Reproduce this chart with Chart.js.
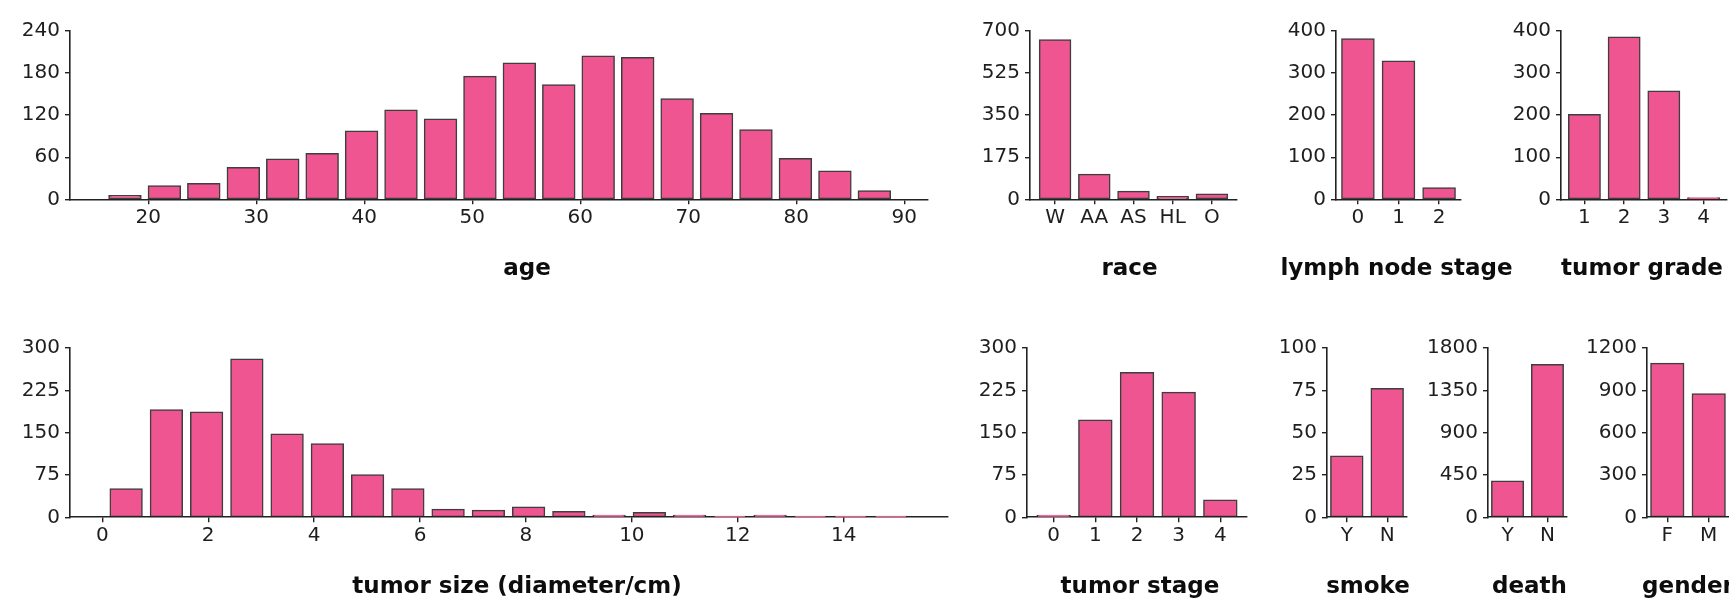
<!DOCTYPE html>
<html>
<head>
<meta charset="utf-8">
<title>Patient characteristics</title>
<script src="https://cdn.jsdelivr.net/npm/chart.js@4.4.1/dist/chart.umd.min.js"></script>
<style>
  html, body { margin: 0; padding: 0; background: #ffffff; width: 1729px; height: 599px; overflow: hidden; }
  body { position: relative; }
  canvas { position: absolute; }
</style>
</head>
<body>
<script>
// ---------------- data ----------------
const ageBinCenters = [17.84, 21.49, 25.14, 28.80, 32.45, 36.10, 39.75, 43.40, 47.06, 50.71,
                       54.36, 58.01, 61.66, 65.32, 68.97, 72.62, 76.27, 79.92, 83.58, 87.23];
const ageCounts = [5, 19, 22, 45, 57, 65, 97, 127, 114, 175, 194, 163, 204, 202, 143, 122, 99, 58, 40, 12];
const ageXTicks = [20, 30, 40, 50, 60, 70, 80, 90];
const ageYTicks = [0, 60, 120, 180, 240];

const sizeBinCenters = [0.45, 1.21, 1.97, 2.73, 3.49, 4.25, 5.01, 5.77, 6.53, 7.29,
                        8.05, 8.81, 9.57, 10.33, 11.09, 11.85, 12.61, 13.37, 14.13, 14.89];
const sizeCounts = [50, 190, 186, 280, 147, 130, 75, 50, 14, 12, 18, 10, 3, 8, 3, 1, 3, 1, 1, 1];
const sizeXTicks = [0, 2, 4, 6, 8, 10, 12, 14];
const sizeYTicks = [0, 75, 150, 225, 300];

const raceCats = ['W', 'AA', 'AS', 'HL', 'O'];
const raceCounts = [663, 103, 32, 11, 21];
const raceYTicks = [0, 175, 350, 525, 700];

const lymphCats = ['0', '1', '2'];
const lymphCounts = [381, 328, 27];
const lymphYTicks = [0, 100, 200, 300, 400];

const gradeCats = ['1', '2', '3', '4'];
const gradeCounts = [201, 385, 257, 3];
const gradeYTicks = [0, 100, 200, 300, 400];

const stageCats = ['0', '1', '2', '3', '4'];
const stageCounts = [3, 172, 256, 221, 30];
const stageYTicks = [0, 75, 150, 225, 300];

const smokeCats = ['Y', 'N'];
const smokeCounts = [36, 76];
const smokeYTicks = [0, 25, 50, 75, 100];

const deathCats = ['Y', 'N'];
const deathCounts = [383, 1621];
const deathYTicks = [0, 450, 900, 1350, 1800];

const genderCats = ['F', 'M'];
const genderCounts = [1090, 874];
const genderYTicks = [0, 300, 600, 900, 1200];

// ---------------- styles ----------------
const FILL = '#ef5591';
const EDGE = 'rgba(35,35,35,0.88)';
const AXIS = '#222222';
const TEXT = '#1e1e1e';
const TICK_FONT = { family: '"DejaVu Sans", sans-serif', size: 20 };
const TITLE_FONT = 'bold 23px "DejaVu Sans", sans-serif';
const Y_W = 70;      // width reserved for the y axis
const X_H = 92;      // height reserved for the x axis + caption
const PAD_R = 80;    // room on the right for captions

const TOP_ROW = { top: 29.3, bottom: 199.3 };
const BOT_ROW = { top: 346.7, bottom: 517.3 };

// axis caption drawn below each panel
const captionPlugin = {
  id: 'caption',
  afterDraw(chart, args, opts) {
    const { ctx, chartArea } = chart;
    ctx.save();
    ctx.font = TITLE_FONT;
    ctx.fillStyle = '#0d0d0d';
    ctx.textAlign = 'center';
    ctx.textBaseline = 'alphabetic';
    ctx.fillText(opts.text, (chartArea.left + chartArea.right) / 2 + (opts.dx || 0), chartArea.bottom + 75.3);
    ctx.restore();
  }
};

function catLimits(n) {
  const m = 0.05 * (n - 0.2);
  return [-0.4 - m, n - 0.6 + m];
}

function addPanel(p) {
  const cLeft = Math.floor(p.left) - Y_W;
  const cTop = Math.floor(p.row.top) - 15;
  const width = Math.ceil(p.right - cLeft) + PAD_R;
  const height = Math.ceil(p.row.bottom - cTop + X_H);
  const padL = p.left - cLeft - Y_W;
  const padT = p.row.top - cTop;
  const padR = width - (p.right - cLeft);
  const padB = height - X_H - (p.row.bottom - cTop);

  const canvas = document.createElement('canvas');
  canvas.width = width;
  canvas.height = height;
  canvas.style.left = cLeft + 'px';
  canvas.style.top = cTop + 'px';
  canvas.style.width = width + 'px';
  canvas.style.height = height + 'px';
  document.body.appendChild(canvas);

  let xs, xTicks, xMin, xMax, xLabel;
  if (p.cats) {
    xs = p.cats.map((c, i) => i);
    xTicks = xs;
    [xMin, xMax] = catLimits(p.cats.length);
    xLabel = v => p.cats[Math.round(v)];
  } else {
    xs = p.centers;
    xTicks = p.xTicks;
    xMin = p.xMin; xMax = p.xMax;
    xLabel = v => String(v);
  }

  const gridOpts = {
    display: true, drawOnChartArea: false, drawTicks: true, tickLength: 5,
    color: AXIS, tickColor: AXIS, lineWidth: 1.4, tickWidth: 1.4, offset: false
  };
  const borderOpts = { display: true, color: AXIS, width: 1.6 };

  new Chart(canvas, {
    type: 'bar',
    data: {
      datasets: [{
        data: xs.map((x, i) => ({ x: x, y: p.values[i] })),
        backgroundColor: FILL,
        borderColor: EDGE,
        borderWidth: 1.5,
        borderSkipped: false,
        inflateAmount: 0.75,
        categoryPercentage: 1.0,
        barPercentage: p.barPct
      }]
    },
    options: {
      responsive: false,
      maintainAspectRatio: false,
      animation: false,
      devicePixelRatio: 1,
      layout: { padding: { left: padL, top: padT, right: padR, bottom: padB } },
      plugins: {
        legend: { display: false },
        tooltip: { enabled: false },
        caption: { text: p.title, dx: p.dx || 0 }
      },
      scales: {
        x: {
          type: 'linear', min: xMin, max: xMax, offset: false,
          grid: gridOpts, border: borderOpts,
          ticks: { color: TEXT, font: TICK_FONT, padding: 1, maxRotation: 0, autoSkip: false, callback: xLabel },
          afterBuildTicks: s => { s.ticks = xTicks.map(v => ({ value: v })); },
          afterFit: s => { s.height = X_H; }
        },
        y: {
          type: 'linear', min: 0, max: p.yTicks[p.yTicks.length - 1],
          grid: gridOpts, border: borderOpts,
          ticks: { color: TEXT, font: TICK_FONT, padding: 5, callback: v => String(v) },
          afterBuildTicks: s => { s.ticks = p.yTicks.map(v => ({ value: v })); },
          afterFit: s => { s.width = Y_W; }
        }
      }
    },
    plugins: [captionPlugin]
  });
}

// ---------------- panels ----------------
addPanel({ row: TOP_ROW, left: 70, right: 928, centers: ageBinCenters, values: ageCounts,
           xTicks: ageXTicks, xMin: 12.75, xMax: 92.2, yTicks: ageYTicks, barPct: 0.81,
           title: 'age', dx: 28 });
addPanel({ row: TOP_ROW, left: 1030, right: 1237, cats: raceCats, values: raceCounts,
           yTicks: raceYTicks, barPct: 0.79, title: 'race', dx: -4 });
addPanel({ row: TOP_ROW, left: 1336, right: 1461, cats: lymphCats, values: lymphCounts,
           yTicks: lymphYTicks, barPct: 0.79, title: 'lymph node stage', dx: -2 });
addPanel({ row: TOP_ROW, left: 1561, right: 1727, cats: gradeCats, values: gradeCounts,
           yTicks: gradeYTicks, barPct: 0.79, title: 'tumor grade', dx: -2 });

addPanel({ row: BOT_ROW, left: 70, right: 948, centers: sizeBinCenters, values: sizeCounts,
           xTicks: sizeXTicks, xMin: -0.61, xMax: 15.97, yTicks: sizeYTicks, barPct: 0.79,
           title: 'tumor size (diameter/cm)', dx: 8 });
addPanel({ row: BOT_ROW, left: 1027, right: 1247, cats: stageCats, values: stageCounts,
           yTicks: stageYTicks, barPct: 0.79, title: 'tumor stage', dx: 3 });
addPanel({ row: BOT_ROW, left: 1327, right: 1407, cats: smokeCats, values: smokeCounts,
           yTicks: smokeYTicks, barPct: 0.79, title: 'smoke', dx: 1 });
addPanel({ row: BOT_ROW, left: 1488, right: 1567, cats: deathCats, values: deathCounts,
           yTicks: deathYTicks, barPct: 0.79, title: 'death', dx: 2 });
addPanel({ row: BOT_ROW, left: 1647, right: 1729, cats: genderCats, values: genderCounts,
           yTicks: genderYTicks, barPct: 0.79, title: 'gender', dx: 0 });
</script>
</body>
</html>
